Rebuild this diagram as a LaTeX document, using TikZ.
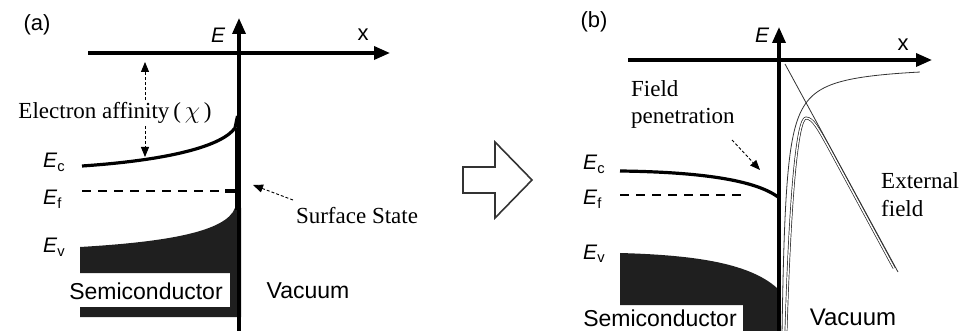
\documentclass[tikz,border=0pt]{standalone}
\usepackage{fontspec}
\setmainfont{Liberation Serif}
\setsansfont{Liberation Sans}
\usetikzlibrary{arrows.meta}
\begin{document}
\begin{tikzpicture}[x=1pt,y=-1pt,
  axisline/.style={line width=3.4pt,-{Triangle[length=16pt,width=13pt]}},
  band/.style={line width=3.2pt},
  fermi/.style={line width=2.6pt,dash pattern=on 9pt off 7pt},
  dasharrow/.style={line width=0.9pt,dash pattern=on 3pt off 2pt,-{Triangle[length=10pt,width=8pt]}},
  serif/.style={inner sep=0pt,font=\fontsize{23}{27}\selectfont},
  sans/.style={inner sep=0pt,font=\sffamily\fontsize{23}{27}\selectfont},
  elabel/.style={inner sep=0pt,anchor=base west,font=\sffamily\fontsize{21}{24}\selectfont},
  thinline/.style={line width=0.8pt,black!80},
  totalpot/.style={draw=black!85,line width=0.7pt,double=white,double distance=1.4pt},
  hollow/.style={draw=black!80,line width=1.6pt,fill=white}
]
\useasboundingbox (0,0) rectangle (964,331);

% ---------------- panel (a) ----------------
\node[sans,font=\sffamily\fontsize{22}{24}\selectfont] (lbla) at (37,25) {(a)};
% valence band fill with label cut-out
\fill[black!88] (80,247) .. controls (165,242) and (226,232) .. (235,208)
  -- (241,208) -- (241,317) -- (80,317) -- (80,307) -- (230,307) -- (230,273) -- (80,273) -- cycle;
% conduction band
\draw[band] (82,166) .. controls (170,160) and (222,146) .. (235,128) -- (237.5,116);
\draw[line width=1.4pt] (235.8,128) -- (235.8,210);
% Fermi level and surface state
\draw[fermi] (82,191) -- (224,191);
\draw[line width=4pt] (225,191) -- (238,191);
% axes
\coordinate (ya0) at (239,331);
\coordinate (ya1) at (239,18);
\coordinate (xa0) at (88,53);
\coordinate (xa1) at (390,53);
\draw[axisline] (xa0) -- (xa1);
\draw[axisline] (ya0) -- (ya1);
\node[elabel,font=\sffamily\itshape\fontsize{21}{24}\selectfont] (Ea) at (211,43) {E};
\node[sans,font=\sffamily\fontsize{22}{24}\selectfont] (xa) at (363,35) {x};
% band labels
\node[elabel] (Eca) at (43,168) {\textit{E}\textsubscript{c}};
\node[elabel] (Efa) at (43,205) {\textit{E}\textsubscript{f}};
\node[elabel] (Eva) at (43,253) {\textit{E}\textsubscript{v}};
% electron affinity
\node[serif] (chi) at (115,113) {Electron affinity\,(\,$\chi$\,)};
\coordinate (chitop) at (145,62);
\coordinate (chibot) at (145,157);
\draw[dasharrow] (chi.north -| chitop) ++(0,-2) -- (chitop);
\draw[dasharrow] (chi.south -| chibot) ++(0,2) -- (chibot);
% surface state
\node[serif] (ss) at (357,216) {Surface State};
\coordinate (sstip) at (253,185);
\coordinate (sstail) at (293,200);
\draw[dasharrow] (sstail) -- (sstip);
\node[sans] (semia) at (146,291) {Semiconductor};
\node[sans] (vaca) at (308,291) {Vacuum};

% ---------------- transition arrow ----------------
\draw[hollow] (463,167) -- (495,167) -- (495,142) -- (532,180) -- (495,218) -- (495,193) -- (463,193) -- cycle;

% ---------------- panel (b) ----------------
\node[sans,font=\sffamily\fontsize{22}{24}\selectfont] (lblb) at (594,22) {(b)};
\fill[black!88] (620,253) .. controls (690,255) and (748,262) .. (777,288)
  -- (777,331) -- (743,331) -- (743,305) -- (620,305) -- cycle;
\draw[band] (620,171) .. controls (700,172) and (755,180) .. (778,197);
\draw[fermi] (620,195) -- (745,195);
% potentials
\draw[thinline] plot[domain=0:1,samples=160,variable=\t]
  ({778+4.06*exp(3.555*\t)},{64.4+1082/(4.06*exp(3.555*\t))});
\coordinate (fl0) at (785,64);
\coordinate (fl1) at (898,272);
\draw[thinline] (fl0) -- (fl1);
\draw[totalpot] (786,331) .. controls (790,200) and (797,118) .. (806,118)
  .. controls (813,118) and (819,130) .. (828,146) -- (894,268);
% axes
\coordinate (yb0) at (779,331);
\coordinate (yb1) at (779,27);
\coordinate (xb0) at (628,60);
\coordinate (xb1) at (932,60);
\draw[axisline] (xb0) -- (xb1);
\draw[axisline] (yb0) -- (yb1);
\node[elabel,font=\sffamily\itshape\fontsize{21}{24}\selectfont] (Eb) at (755,43) {E};
\node[sans,font=\sffamily\fontsize{22}{24}\selectfont] (xb) at (903,45) {x};
\node[elabel] (Ecb) at (583,170) {\textit{E}\textsubscript{c}};
\node[elabel] (Efb) at (583,205) {\textit{E}\textsubscript{f}};
\node[elabel] (Evb) at (583,259) {\textit{E}\textsubscript{v}};
\node[serif,align=left,anchor=north west] (fp) at (631,80) {Field\\penetration};
\coordinate (fptail) at (732,140);
\coordinate (fptip) at (760,170);
\draw[dasharrow] (fptail) -- (fptip);
\node[serif,align=left,anchor=north west,font=\fontsize{23}{28}\selectfont] (ef) at (881,172) {External\\field};
\node[sans] (semib) at (660,318) {Semiconductor};
\node[sans,font=\sffamily\fontsize{24}{27}\selectfont] (vacb) at (853,317) {Vacuum};
\end{tikzpicture}
\end{document}
